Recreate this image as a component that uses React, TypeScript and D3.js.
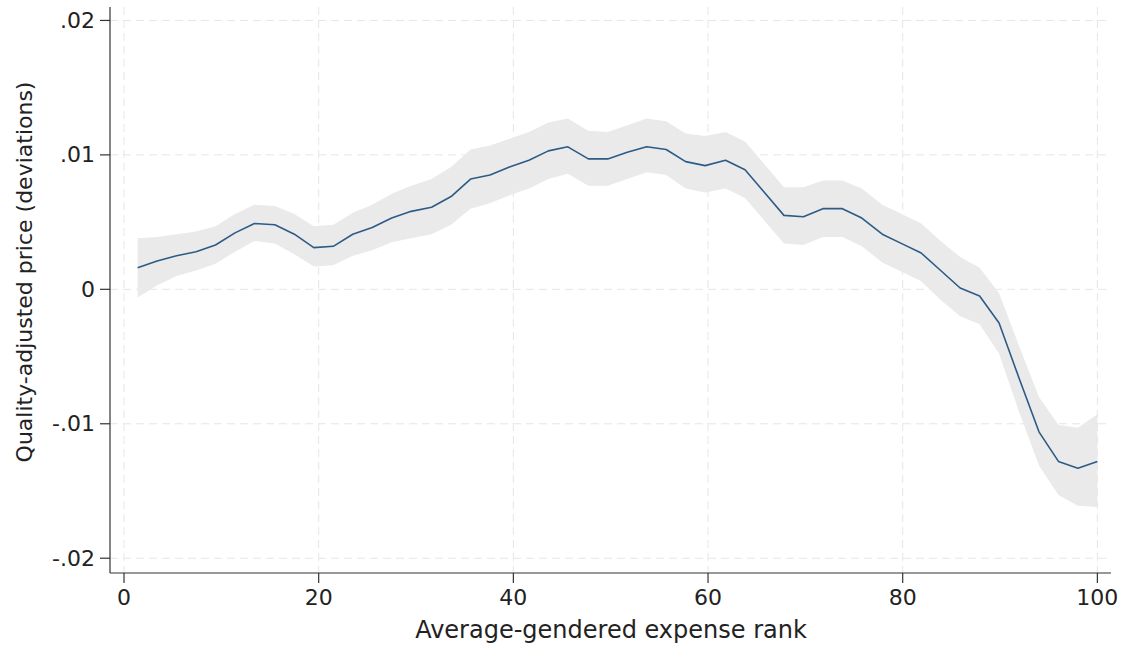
import React from 'react';
import * as d3 from 'd3';

const WIDTH = 1125;
const HEIGHT = 645;
const MARGIN = { top: 7, right: 14, bottom: 72, left: 110 };

// expense rank bins and the estimated price deviations with their 95% band
const rank = [
  1.4, 3.4, 5.4, 7.4, 9.4, 11.4, 13.4, 15.5, 17.5, 19.5,
  21.5, 23.5, 25.5, 27.5, 29.5, 31.6, 33.6, 35.6, 37.6, 39.6,
  41.6, 43.6, 45.6, 47.7, 49.7, 51.7, 53.7, 55.7, 57.7, 59.7,
  61.8, 63.8, 65.8, 67.8, 69.8, 71.8, 73.8, 75.8, 77.9, 79.9,
  81.9, 83.9, 85.9, 87.9, 89.9, 91.9, 94.0, 96.0, 98.0, 100,
];
const estimate = [
  0.0016, 0.0021, 0.0025, 0.0028, 0.0033, 0.0042, 0.0049, 0.0048, 0.0041, 0.0031,
  0.0032, 0.0041, 0.0046, 0.0053, 0.0058, 0.0061, 0.0069, 0.0082, 0.0085, 0.0091,
  0.0096, 0.0103, 0.0106, 0.0097, 0.0097, 0.0102, 0.0106, 0.0104, 0.0095, 0.0092,
  0.0096, 0.0089, 0.0072, 0.0055, 0.0054, 0.006, 0.006, 0.0053, 0.0041, 0.0034,
  0.0027, 0.0014, 0.0001, -0.0005, -0.0025, -0.0065, -0.0106, -0.0128, -0.0133, -0.0128,
];
const lower = [
  -0.0006, 0.0003, 0.001, 0.0014, 0.0019, 0.0028, 0.0036, 0.0034, 0.0026, 0.0017,
  0.0018, 0.0025, 0.0029, 0.0035, 0.0038, 0.0041, 0.0048, 0.006, 0.0064, 0.007,
  0.0075, 0.0082, 0.0086, 0.0077, 0.0077, 0.0082, 0.0087, 0.0085, 0.0075, 0.0072,
  0.0075, 0.0068, 0.0051, 0.0034, 0.0033, 0.0039, 0.0039, 0.0032, 0.002, 0.0013,
  0.0006, -0.0008, -0.002, -0.0026, -0.0048, -0.009, -0.0131, -0.0153, -0.0161, -0.0162,
];
const upper = [
  0.0038, 0.0039, 0.0041, 0.0043, 0.0047, 0.0056, 0.0063, 0.0062, 0.0056, 0.0047,
  0.0048, 0.0057, 0.0063, 0.0071, 0.0077, 0.0082, 0.0091, 0.0104, 0.0107, 0.0112,
  0.0117, 0.0124, 0.0127, 0.0118, 0.0117, 0.0122, 0.0127, 0.0125, 0.0116, 0.0114,
  0.0117, 0.011, 0.0093, 0.0076, 0.0076, 0.0081, 0.0081, 0.0075, 0.0063, 0.0056,
  0.0049, 0.0036, 0.0024, 0.0016, -0.0003, -0.0041, -0.008, -0.0101, -0.0103, -0.0093,
];

const xTicks = [0, 20, 40, 60, 80, 100];
const yTicks = [-0.02, -0.01, 0, 0.01, 0.02];
const yTickLabels = ['-.02', '-.01', '0', '.01', '.02'];

const FONT = 'DejaVu Sans, sans-serif';

export default function App() {
  const x = d3.scaleLinear().domain([-1.44, 101.4]).range([MARGIN.left, WIDTH - MARGIN.right]);
  const y = d3.scaleLinear().domain([-0.0211, 0.021]).range([HEIGHT - MARGIN.bottom, MARGIN.top]);

  const idx = d3.range(rank.length);
  const band = d3
    .area<number>()
    .x((i) => x(rank[i]))
    .y0((i) => y(lower[i]))
    .y1((i) => y(upper[i]))(idx);
  const line = d3
    .line<number>()
    .x((i) => x(rank[i]))
    .y((i) => y(estimate[i]))(idx);

  const x0 = MARGIN.left;
  const x1 = WIDTH - MARGIN.right;
  const yBottom = HEIGHT - MARGIN.bottom;
  const yTop = MARGIN.top;

  return (
    <svg
      width={WIDTH}
      height={HEIGHT}
      style={{ position: 'absolute', left: 0, top: 0, background: '#fff' }}
      fontFamily={FONT}
    >
      {/* grid */}
      {yTicks.map((t) => (
        <line key={'gy' + t} x1={x0} x2={x1} y1={y(t)} y2={y(t)} stroke="#e6e6e6" strokeDasharray="8 5" />
      ))}
      {xTicks.map((t) => (
        <line key={'gx' + t} x1={x(t)} x2={x(t)} y1={yTop} y2={yBottom} stroke="#e6e6e6" strokeDasharray="8 5" />
      ))}

      <path d={band ?? ''} fill="#eaeaea" />
      <path d={line ?? ''} fill="none" stroke="#2c5b86" strokeWidth={1.6} strokeLinejoin="round" />

      {/* axes */}
      <line x1={x0} x2={x0} y1={yTop} y2={yBottom} stroke="#333" strokeWidth={1.2} />
      <line x1={x0} x2={x1} y1={yBottom} y2={yBottom} stroke="#333" strokeWidth={1.2} />

      {yTicks.map((t, i) => (
        <g key={'ty' + t}>
          <line x1={x0 - 10} x2={x0} y1={y(t)} y2={y(t)} stroke="#333" strokeWidth={1.2} />
          <text x={x0 - 15} y={y(t)} textAnchor="end" dominantBaseline="central" fontSize={22} fill="#222">
            {yTickLabels[i]}
          </text>
        </g>
      ))}
      {xTicks.map((t) => (
        <g key={'tx' + t}>
          <line x1={x(t)} x2={x(t)} y1={yBottom} y2={yBottom + 10} stroke="#333" strokeWidth={1.2} />
          <text x={x(t)} y={605} textAnchor="middle" fontSize={22} fill="#222">
            {t}
          </text>
        </g>
      ))}

      <text x={611} y={638} textAnchor="middle" fontSize={24} fill="#222">
        Average-gendered expense rank
      </text>
      <text
        transform="translate(32, 272) rotate(-90)"
        textAnchor="middle"
        fontSize={22}
        fill="#222"
      >
        Quality-adjusted price (deviations)
      </text>
    </svg>
  );
}
